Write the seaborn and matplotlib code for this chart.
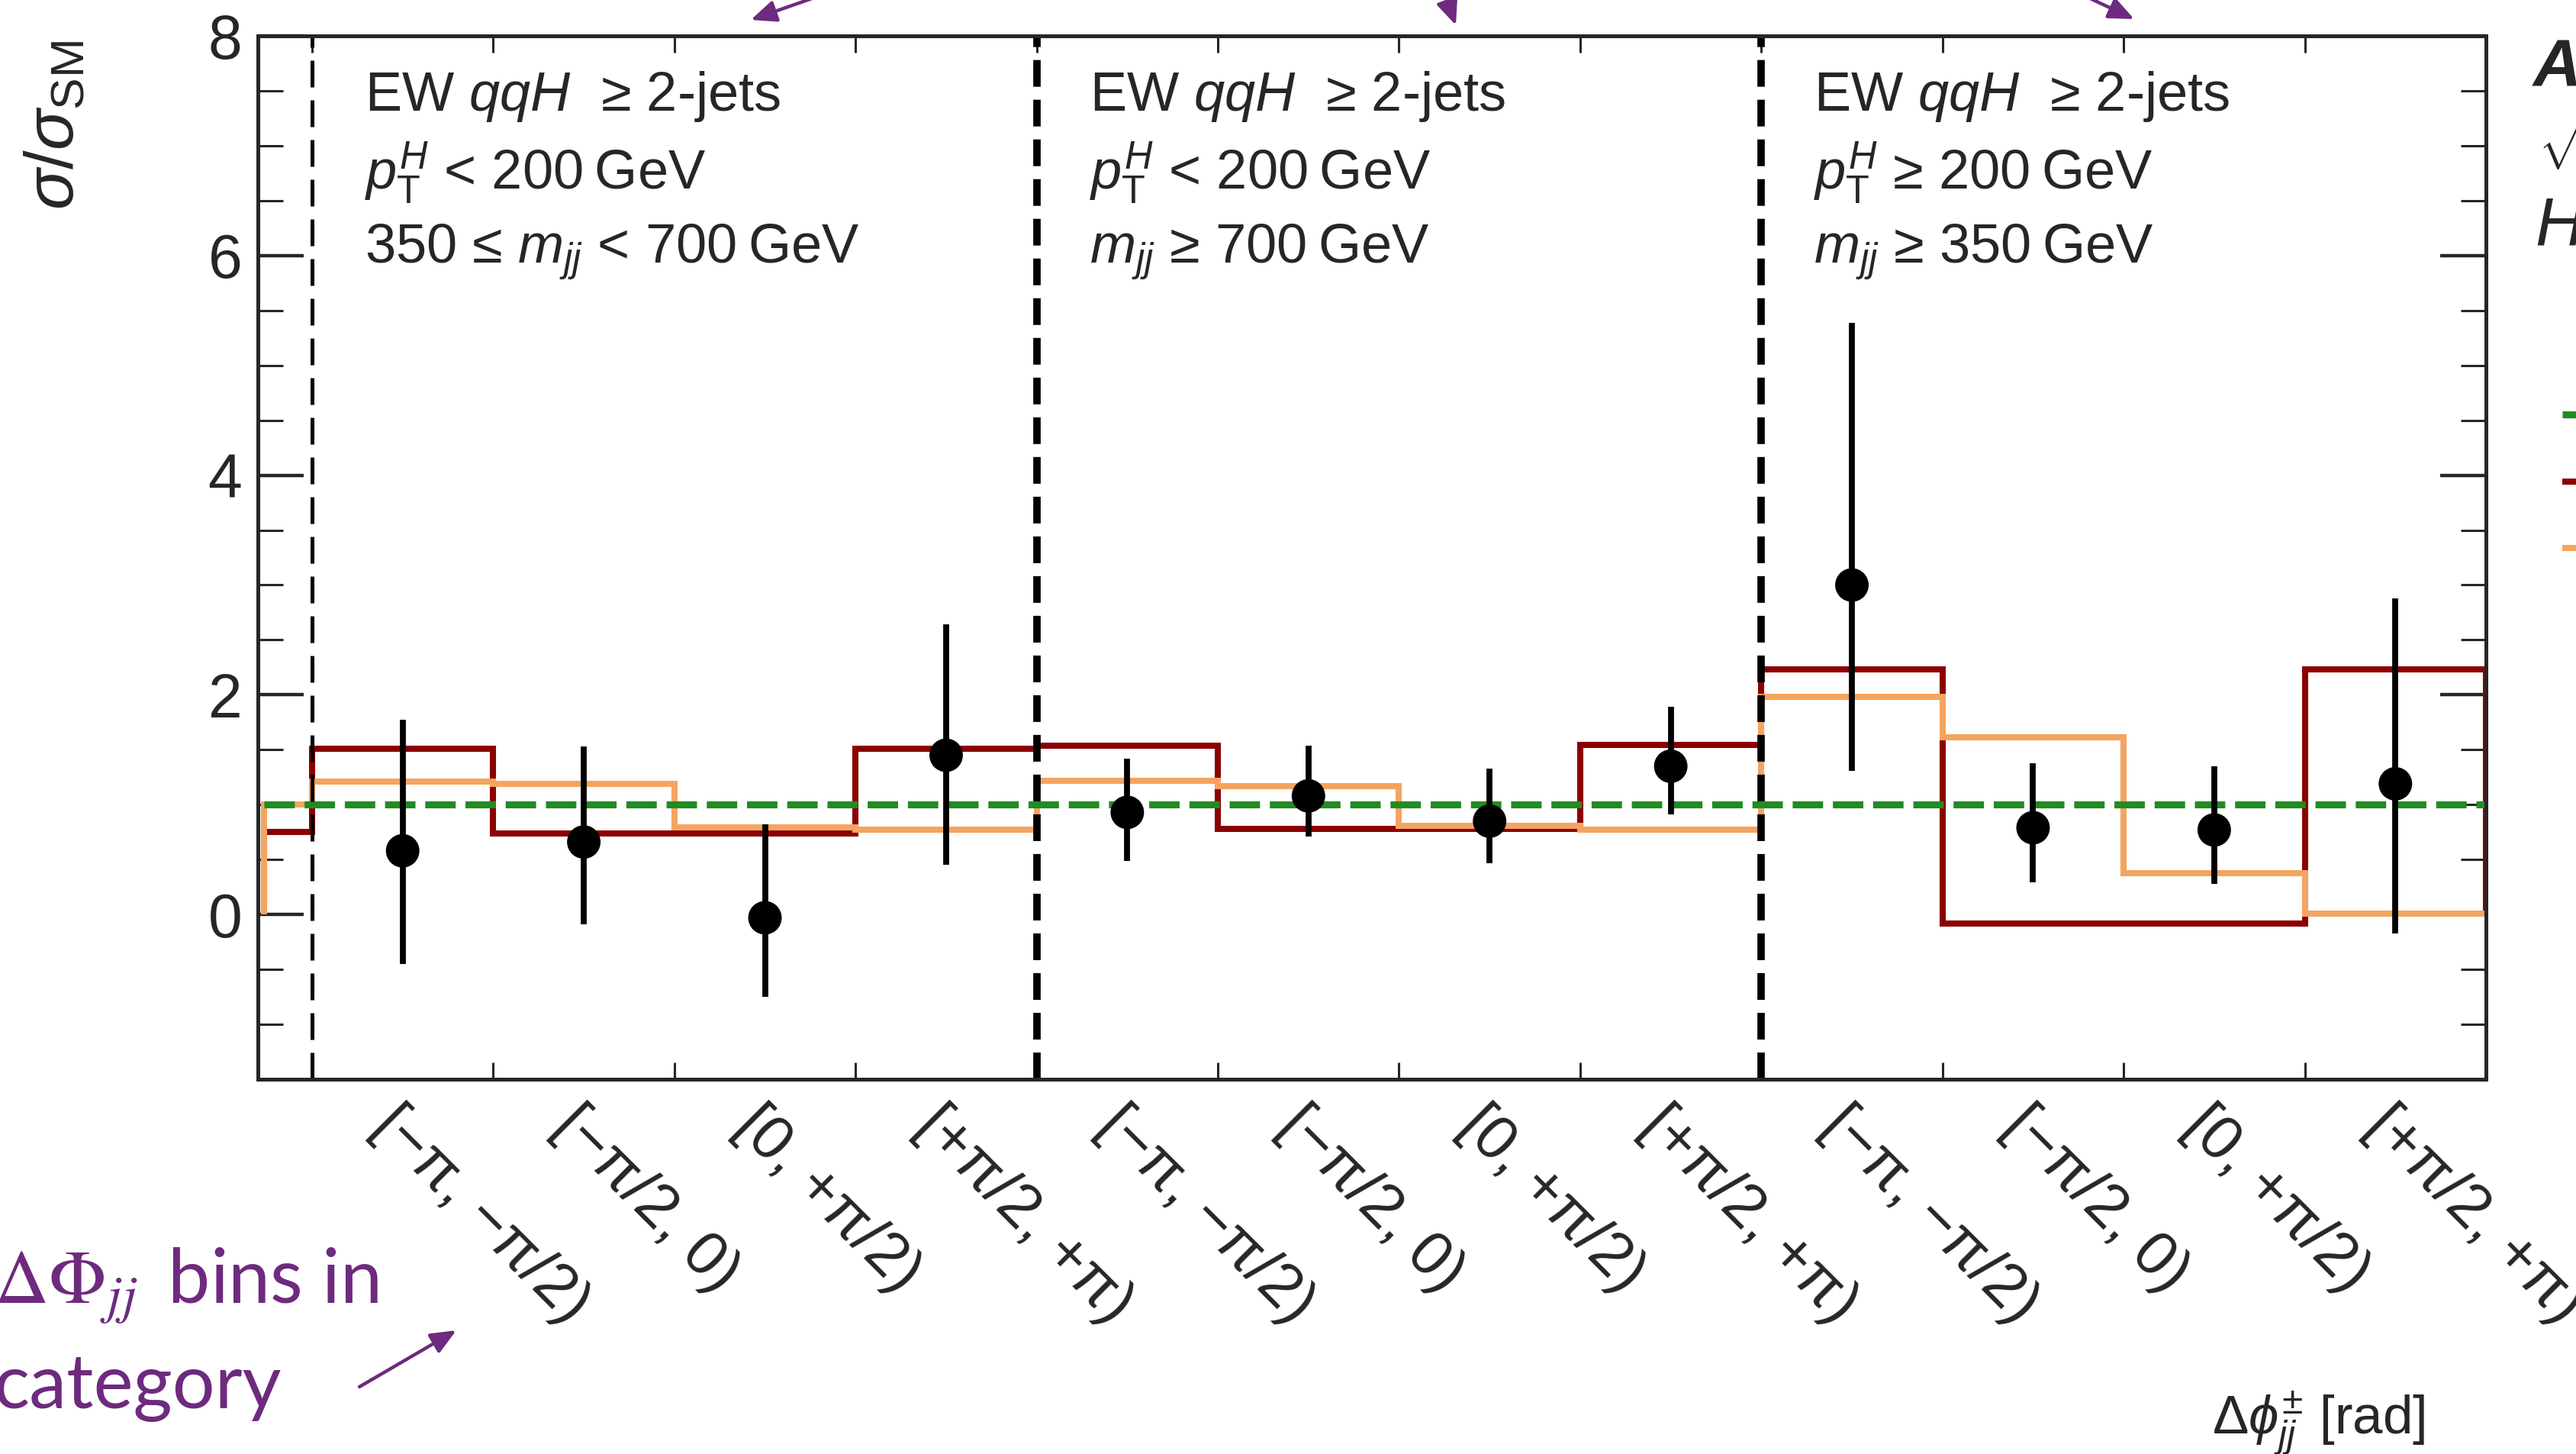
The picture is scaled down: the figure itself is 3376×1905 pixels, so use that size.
import numpy as np
import pandas as pd
import seaborn as sns
import matplotlib
matplotlib.use("Agg")
import matplotlib.pyplot as plt
from matplotlib.ticker import FixedLocator, NullFormatter
from matplotlib.patches import FancyArrowPatch
import matplotlib.transforms as mtransforms

# ---------------- data ----------------
bin_labels = ["[−π, −π/2)", "[−π/2, 0)", "[0, +π/2)", "[+π/2, +π)"]
category_text = [
    ["EW $qqH$  ≥ 2-jets", "$p_{\\mathrm{T}}^{H}$ < 200\u2009GeV", "350 ≤ $m_{jj}$ < 700\u2009GeV"],
    ["EW $qqH$  ≥ 2-jets", "$p_{\\mathrm{T}}^{H}$ < 200\u2009GeV", "$m_{jj}$ ≥ 700\u2009GeV"],
    ["EW $qqH$  ≥ 2-jets", "$p_{\\mathrm{T}}^{H}$ ≥ 200\u2009GeV", "$m_{jj}$ ≥ 350\u2009GeV"],
]
data_mu = [0.58, 0.66, -0.03, 1.45, 0.93, 1.08, 0.85, 1.35, 3.00, 0.79, 0.77, 1.19]
data_up = [1.77, 1.53, 0.82, 2.64, 1.42, 1.54, 1.33, 1.89, 5.39, 1.38, 1.35, 2.88]
data_dn = [-0.45, -0.09, -0.75, 0.45, 0.49, 0.71, 0.47, 0.91, 1.31, 0.29, 0.28, -0.17]
# predictions; the first value belongs to the partly visible bin left of the first category
pred_red = [0.75, 1.51, 0.74, 0.74, 1.51, 1.54, 0.78, 0.78, 1.545, 2.23, -0.085, -0.085, 2.23]
pred_orange = [1.00, 1.21, 1.19, 0.79, 0.775, 1.215, 1.17, 0.81, 0.77, 1.98, 1.61, 0.375, 0.01]
sm_value = 1.0
legend_labels = ["SM", "BSM hypothesis 1", "BSM hypothesis 2"]

# ---------------- layout / style ----------------
W, H, DPI = 3376, 1905, 200
C_RED = "#8B0000"
C_ORANGE = "#F4A460"
C_GREEN = "#228B22"
C_PURPLE = "#6E2A7E"
n_bins = len(data_mu)
first_edge = -0.265
edges = np.concatenate([[first_edge], np.arange(n_bins + 1)])
centers = np.arange(n_bins) + 0.5

sns.set_style("ticks")
plt.rcParams["font.family"] = ["Liberation Sans", "DejaVu Sans"]
plt.rcParams["mathtext.fontset"] = "custom"
plt.rcParams["mathtext.rm"] = "Liberation Sans"
plt.rcParams["mathtext.it"] = "Liberation Sans:italic"
plt.rcParams["mathtext.bf"] = "Liberation Sans:bold"
plt.rcParams["axes.linewidth"] = 1.8

fig = plt.figure(figsize=(W / DPI, H / DPI), dpi=DPI)
ax = fig.add_axes([338 / W, 1 - 1414 / H, (3258 - 338) / W, (1414 - 47) / H])


def step_frame(vals):
    xs, ys = [edges[0]], [0.0]
    for i, v in enumerate(vals):
        xs += [edges[i], edges[i + 1]]
        ys += [v, v]
    xs.append(edges[-1])
    ys.append(0.0)
    return pd.DataFrame({"x": xs, "y": ys})


red_df = step_frame(pred_red)
orange_df = step_frame(pred_orange)
sns.lineplot(data=red_df, x="x", y="y", estimator=None, sort=False, color=C_RED,
             lw=2.9, ax=ax, legend=False, zorder=2)
red_line = ax.lines[-1]
sns.lineplot(data=orange_df, x="x", y="y", estimator=None, sort=False, color=C_ORANGE,
             lw=2.9, ax=ax, legend=False, zorder=2.1)
orange_line = ax.lines[-1]
for ln in (red_line, orange_line):
    ln.set_solid_joinstyle("miter")
    ln.set_solid_capstyle("butt")

sm_df = pd.DataFrame({"x": [first_edge, edges[-1]], "y": [sm_value, sm_value]})
sns.lineplot(data=sm_df, x="x", y="y", estimator=None, sort=False, color=C_GREEN,
             lw=3.3, ax=ax, legend=False, zorder=2.2)
green_line = ax.lines[-1]
green_line.set_dashes([4.35, 1.4])

# category separators
ax.axvline(0, color="black", lw=1.8, dashes=(7, 3.4), zorder=2.3)
for xb in (4, 8):
    ax.axvline(xb, color="black", lw=3.5, dashes=(3.6, 1.75), zorder=2.3)

# data points
mu = np.array(data_mu)
ax.errorbar(centers, mu, yerr=[mu - np.array(data_dn), np.array(data_up) - mu],
            fmt="none", ecolor="black", elinewidth=2.8, capsize=0, zorder=3)
sns.scatterplot(x=centers, y=mu, color="black", s=250, edgecolor="none", ax=ax,
                zorder=3.1, legend=False)

# axes ranges / ticks
ax.set_xlim(-0.299, n_bins)
ax.set_ylim(-1.5, 8)
ax.xaxis.set_major_locator(FixedLocator(np.arange(n_bins + 1)))
ax.xaxis.set_major_formatter(NullFormatter())
ax.set_xticks(centers, minor=True)
ax.set_xticklabels(bin_labels * 3, minor=True)
ax.tick_params(axis="x", which="major", direction="in", top=True, bottom=True,
               length=8, width=1.1, labelbottom=False)
ax.tick_params(axis="x", which="minor", length=0, pad=8, labelsize=29)
for lbl in ax.get_xticklabels(minor=True):
    lbl.set_rotation(-45)
    lbl.set_ha("left")
    lbl.set_va("top")
    lbl.set_rotation_mode("anchor")

ax.yaxis.set_major_locator(FixedLocator([0, 2, 4, 6, 8]))
ax.yaxis.set_minor_locator(FixedLocator([v for v in np.arange(-1.5, 8.01, 0.5) if v % 2 != 0]))
ax.set_yticklabels(["0", "2", "4", "6", "8"])
ax.tick_params(axis="y", which="major", direction="in", left=True, right=True,
               length=21.5, width=1.6, labelsize=29, pad=7.5)
ax.tick_params(axis="y", which="minor", direction="in", left=True, right=True,
               length=12, width=1.1)
for sp in ax.spines.values():
    sp.set_linewidth(1.8)
    sp.set_visible(True)

ax.set_ylabel(r"$\sigma/\sigma_{\mathrm{SM}}$", fontsize=32, loc="top")
ax.yaxis.set_label_coords(-0.0764, 0.9956)
ax.set_xlabel(r"$\Delta\phi_{jj}^{\pm}$ [rad]", fontsize=25.5, loc="right")
ax.xaxis.label.set_va("baseline")
ax.xaxis.set_label_coords(0.9726, -0.3394)

# category descriptions
blend = mtransforms.blended_transform_factory(ax.transData, ax.transAxes)
line_y = [0.928, 0.853, 0.782]
for ci, lines in enumerate(category_text):
    for txt, yy in zip(lines, line_y):
        ax.text(4 * ci + 0.29, yy, txt, transform=blend, fontsize=26,
                va="baseline", ha="left")

# partly visible legend and labels at the right edge (cut by the figure border)
def fxy(x, y):
    return (x / W, 1 - y / H)

fig.text(*fxy(3320, 112), "ATLAS", fontsize=31.5, fontweight="bold", fontstyle="italic",
         va="baseline")
fig.text(*fxy(3326, 222), r"$\sqrt{s}$ = 13 TeV, 139 fb$^{-1}$", fontsize=29, va="baseline")
fig.text(*fxy(3322, 321), r"$H \rightarrow \gamma\gamma$", fontsize=32, va="baseline")

ax.legend(handles=[green_line, red_line, orange_line], labels=legend_labels,
          loc="upper left", bbox_to_anchor=fxy(3358, 518), bbox_transform=fig.transFigure,
          frameon=False, borderpad=0, borderaxespad=0, handlelength=2.0,
          handleheight=1.4, labelspacing=0.42, fontsize=20)

# purple annotations
fig.text(*fxy(-8, 1708), r"$\Delta\Phi_{jj}\,$ bins in", color=C_PURPLE, fontsize=35.5,
         family=["Lato", "DejaVu Sans"], math_fontfamily="stix", va="baseline")
fig.text(*fxy(-8, 1845), "category", color=C_PURPLE, fontsize=35.5,
         family=["Lato", "DejaVu Sans"], va="baseline")

arrows = [((471, 1817), (598, 1743)),
          ((1130, -25), (984, 26)),
          ((1885, -30), (1908, 33)),
          ((2690, -25), (2797, 25))]
for tail, tip in arrows:
    fig.add_artist(FancyArrowPatch(fxy(*tail), fxy(*tip), transform=fig.transFigure,
                                   arrowstyle="-|>,head_length=10,head_width=4.3",
                                   mutation_scale=1, lw=1.6, color=C_PURPLE,
                                   shrinkA=0, shrinkB=0))

fig.savefig("out.png", dpi=DPI)
